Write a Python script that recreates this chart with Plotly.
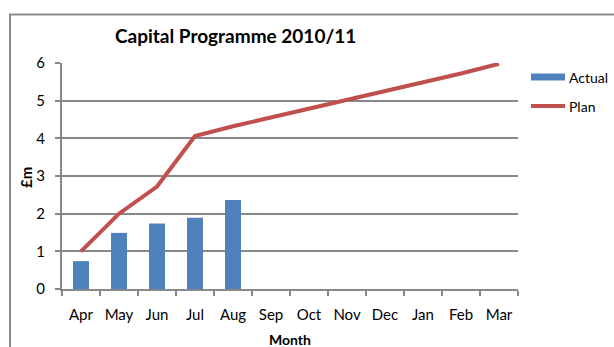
import plotly.graph_objects as go

# Monthly figures, £m
months = ["Apr", "May", "Jun", "Jul", "Aug", "Sep", "Oct", "Nov", "Dec", "Jan", "Feb", "Mar"]
actual = [0.74, 1.49, 1.74, 1.89, 2.36]
plan = [1.0, 2.0, 2.72, 4.06, 4.32, 4.55, 4.78, 5.03, 5.25, 5.48, 5.72, 5.98]
y_ticks = [0, 1, 2, 3, 4, 5, 6]

BLUE = "#4F81BD"
RED = "#C0504D"
GRID = "#888888"
FONT = "Lato"

W, H = 614, 347
L, R, T, B = 62, 96, 63, 58
pw, ph = W - L - R, H - T - B


def px(x):
    return (x - L) / pw


def py(y):
    return (H - B - y) / ph


fig = go.Figure()
fig.add_trace(go.Bar(x=months[:len(actual)], y=actual, name="Actual",
                     marker=dict(color=BLUE, line=dict(width=0))))
fig.add_trace(go.Scatter(x=months, y=plan, name="Plan", mode="lines",
                         line=dict(color=RED, width=4)))

shapes = [
    # outer chart frame (top and left edges)
    dict(type="path", xref="paper", yref="paper",
         path=f"M {px(10)} {py(360)} L {px(10)} {py(14.5)} L {px(630)} {py(14.5)}",
         line=dict(color="#8C8C8C", width=2)),
    # legend keys
    dict(type="rect", xref="paper", yref="paper",
         x0=px(531), x1=px(565), y0=py(80.5), y1=py(73.5),
         fillcolor=BLUE, line=dict(width=0)),
    dict(type="line", xref="paper", yref="paper",
         x0=px(531), x1=px(565), y0=py(106), y1=py(106),
         line=dict(color=RED, width=4)),
]
annotations = [
    dict(text="Actual", xref="paper", yref="paper", x=px(567), y=py(77),
         xanchor="left", yanchor="middle", showarrow=False,
         font=dict(family=FONT, size=14, color="#000")),
    dict(text="Plan", xref="paper", yref="paper", x=px(567), y=py(106),
         xanchor="left", yanchor="middle", showarrow=False,
         font=dict(family=FONT, size=14, color="#000")),
    # axis titles placed explicitly
    dict(text="<b>Month</b>", xref="paper", yref="paper", x=0.5, y=py(339),
         xanchor="center", yanchor="middle", showarrow=False,
         font=dict(family=FONT, size=14, color="#000")),
    dict(text="<b>£m</b>", xref="paper", yref="paper", x=px(26), y=py(178),
         xanchor="center", yanchor="middle", showarrow=False, textangle=-90,
         font=dict(family=FONT, size=15, color="#000")),
]

fig.update_layout(
    width=W, height=H,
    margin=dict(l=L, r=R, t=T, b=B, pad=0),
    paper_bgcolor="white", plot_bgcolor="white",
    showlegend=False,
    bargap=0.58,
    font=dict(family=FONT, size=15, color="#000"),
    title=dict(text="<b>Capital Programme 2010/11</b>", x=px(237), xanchor="center",
               y=1 - 36 / H, yanchor="middle",
               font=dict(family=FONT, size=19, color="#000")),
    shapes=shapes,
    annotations=annotations,
)
fig.update_xaxes(
    type="category", categoryorder="array", categoryarray=months,
    range=[-0.5, 11.5], automargin=False, tickangle=0,
    showgrid=False, showline=True, linecolor=GRID, linewidth=2,
    ticks="outside", tickson="boundaries", ticklen=5, tickwidth=2, tickcolor=GRID,
    ticklabelstandoff=11,
)
fig.update_yaxes(
    range=[0, 6], tickvals=y_ticks, automargin=False,
    showgrid=True, gridcolor=GRID, gridwidth=2,
    zeroline=False, showline=True, linecolor=GRID, linewidth=2,
    ticks="outside", ticklen=5, tickwidth=2, tickcolor=GRID,
    ticklabelstandoff=7,
)

fig.write_html("out.html")
